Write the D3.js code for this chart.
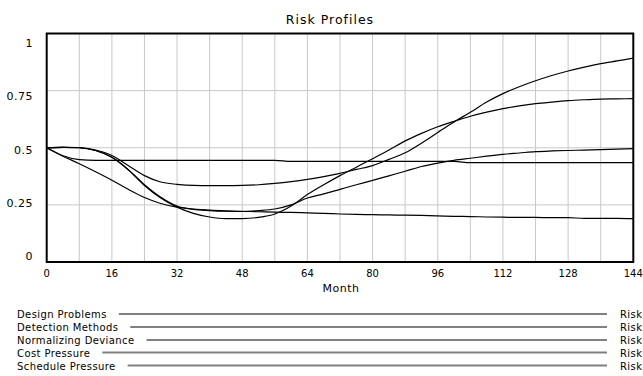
<!DOCTYPE html>
<html>
<head>
<meta charset="utf-8">
<script src="https://cdn.jsdelivr.net/npm/d3@7"></script>
<style>
    body { margin: 0; background: #fff; }
    text { font-family: "DejaVu Sans", sans-serif; fill: #000; }
</style>
</head>
<body>
<div class="chart"></div>
<script>
'use strict';
// data (month, risk value)
var months = [0, 4, 8, 12, 16, 20, 24, 28, 32, 36, 40, 44, 48, 52, 56, 60, 64, 68, 72,
    76, 80, 84, 88, 92, 96, 100, 104, 108, 112, 116, 120, 124, 128, 132, 136, 140, 144];
var designProblems = [0.5, 0.465, 0.448, 0.445, 0.445, 0.445, 0.445, 0.445, 0.445, 0.445,
    0.445, 0.445, 0.445, 0.445, 0.445, 0.44, 0.44, 0.44, 0.44, 0.44, 0.44, 0.44, 0.44, 0.44,
    0.44, 0.44, 0.435, 0.435, 0.435, 0.435, 0.435, 0.435, 0.435, 0.435, 0.435, 0.435, 0.435];
var detectionMethods = [0.5, 0.463, 0.43, 0.395, 0.358, 0.318, 0.282, 0.256, 0.24, 0.232,
    0.227, 0.224, 0.222, 0.22, 0.218, 0.217, 0.215, 0.213, 0.21, 0.208, 0.207, 0.206, 0.205,
    0.204, 0.202, 0.2, 0.199, 0.197, 0.196, 0.195, 0.195, 0.194, 0.194, 0.191, 0.191, 0.191, 0.19];
var normalizingDeviance = [0.5, 0.502, 0.5, 0.488, 0.458, 0.405, 0.338, 0.283, 0.245, 0.23,
    0.225, 0.222, 0.221, 0.225, 0.232, 0.25, 0.28, 0.298, 0.318, 0.338, 0.357, 0.377, 0.397,
    0.418, 0.433, 0.445, 0.454, 0.463, 0.471, 0.477, 0.483, 0.486, 0.488, 0.49, 0.492, 0.494, 0.496];
var costPressure = [0.5, 0.502, 0.5, 0.488, 0.458, 0.403, 0.335, 0.28, 0.24, 0.213,
    0.197, 0.19, 0.19, 0.195, 0.21, 0.245, 0.295, 0.338, 0.378, 0.415, 0.452, 0.49, 0.53,
    0.563, 0.592, 0.616, 0.638, 0.656, 0.671, 0.683, 0.693, 0.7, 0.706, 0.71, 0.713, 0.714, 0.715];
var schedulePressure = [0.5, 0.502, 0.501, 0.49, 0.466, 0.422, 0.378, 0.35, 0.34, 0.335,
    0.334, 0.334, 0.335, 0.338, 0.344, 0.352, 0.362, 0.374, 0.388, 0.405, 0.422, 0.449, 0.478,
    0.52, 0.567, 0.613, 0.655, 0.7, 0.737, 0.767, 0.793, 0.816, 0.836, 0.853, 0.868, 0.88, 0.892];
var seriesNames = ['Design Problems', 'Detection Methods', 'Normalizing Deviance', 'Cost Pressure', 'Schedule Pressure'];
var seriesValues = [designProblems, detectionMethods, normalizingDeviance, costPressure, schedulePressure];
var xTicks = [0, 16, 32, 48, 64, 80, 96, 112, 128, 144];
var yTicks = [0, 0.25, 0.5, 0.75, 1];
var yTickLabels = ['0', '0.25', '0.5', '0.75', '1'];

var width = 643,
    height = 376;
var svg = d3.select('.chart').append('svg')
    .attr('width', width)
    .attr('height', height);

var x = d3.scaleLinear().domain([0, 144]).range([46.7, 633.3]);
var y = d3.scaleLinear().domain([0, 1]).range([262, 33.5]);
// labels on the y side sit a bit off the grid lines in the original
var yLabel = d3.scaleLinear().domain([0, 1]).range([260, 47]);

svg.append('text')
    .attr('x', 330)
    .attr('y', 24)
    .attr('text-anchor', 'middle')
    .style('font-size', '12.5px')
    .style('letter-spacing', '1px')
    .text('Risk Profiles');

// grid
svg.append('g')
    .selectAll('line')
    .data(d3.range(8, 144, 8))
    .enter().append('line')
    .attr('x1', function (d) { return x(d); })
    .attr('x2', function (d) { return x(d); })
    .attr('y1', y(1))
    .attr('y2', y(0))
    .style('stroke', '#c8c8c8');
svg.append('g')
    .selectAll('line')
    .data([0.25, 0.5, 0.75])
    .enter().append('line')
    .attr('x1', x(0))
    .attr('x2', x(144))
    .attr('y1', function (d) { return y(d); })
    .attr('y2', function (d) { return y(d); })
    .style('stroke', '#c8c8c8');

var line = d3.line()
    .x(function (d, i) { return x(months[i]); })
    .y(function (d) { return y(d); })
    .curve(d3.curveMonotoneX);

svg.append('g')
    .selectAll('path')
    .data(seriesValues)
    .enter().append('path')
    .attr('d', line)
    .style('fill', 'none')
    .style('stroke', '#000')
    .style('stroke-width', 1.2);

svg.append('rect')
    .attr('x', x(0))
    .attr('y', y(1))
    .attr('width', x(144) - x(0))
    .attr('height', y(0) - y(1))
    .style('fill', 'none')
    .style('stroke', '#000')
    .style('stroke-width', 2);

// tick labels
svg.append('g')
    .selectAll('text')
    .data(xTicks)
    .enter().append('text')
    .attr('x', function (d) { return x(d); })
    .attr('y', 277)
    .attr('text-anchor', 'middle')
    .style('font-size', '10px')
    .text(function (d) { return d; });
svg.append('g')
    .selectAll('text')
    .data(yTicks)
    .enter().append('text')
    .attr('x', 33)
    .attr('y', function (d) { return yLabel(d); })
    .attr('text-anchor', 'end')
    .style('font-size', '11px')
    .style('letter-spacing', '0.5px')
    .text(function (d, i) { return yTickLabels[i]; });
svg.append('text')
    .attr('x', 341)
    .attr('y', 292)
    .attr('text-anchor', 'middle')
    .style('font-size', '11px')
    .style('letter-spacing', '0.5px')
    .text('Month');

// legend
var legendY = [314, 327, 340, 352.5, 365.5];
var legend = svg.append('g')
    .selectAll('g')
    .data(seriesNames)
    .enter().append('g');
legend.append('text')
    .attr('class', 'lname')
    .attr('x', 17)
    .attr('y', function (d, i) { return legendY[i] + 4; })
    .style('font-size', '10px')
    .style('letter-spacing', '0.4px')
    .text(function (d) { return d; });
legend.append('line')
    .attr('x1', function () {
        return 17 + this.parentNode.querySelector('.lname').getComputedTextLength() + 12;
    })
    .attr('x2', 607)
    .attr('y1', function (d, i) { return legendY[i]; })
    .attr('y2', function (d, i) { return legendY[i]; })
    .style('stroke', '#808080')
    .style('stroke-width', 2);
legend.append('text')
    .attr('x', 620)
    .attr('y', function (d, i) { return legendY[i] + 4; })
    .style('font-size', '10px')
    .style('letter-spacing', '0.4px')
    .text('Risk');
</script>
</body>
</html>
